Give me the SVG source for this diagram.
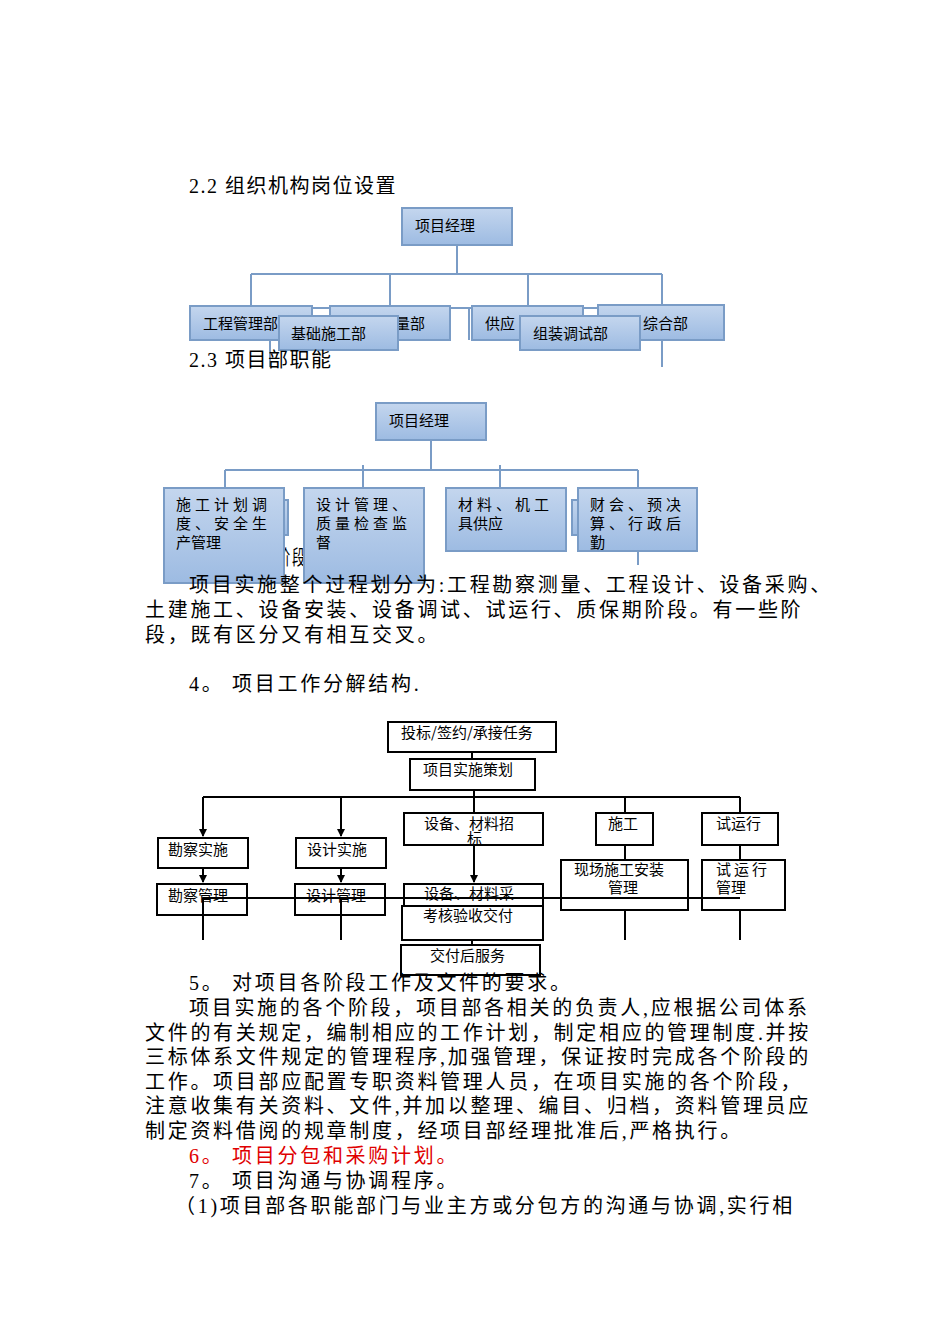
<svg xmlns="http://www.w3.org/2000/svg" width="950" height="1344" viewBox="0 0 950 1344">
<style>
text{font-family:"Liberation Serif","Noto Sans CJK SC",serif;font-size:20px;fill:#000;letter-spacing:2.7px}
.h{letter-spacing:1.5px}
.bl{fill:none;stroke:#7a9cc6;stroke-width:2}
.bx{fill:url(#g);stroke:#7a9cc6;stroke-width:2}
.s{font-size:15px;font-family:"Noto Sans CJK SC",sans-serif;letter-spacing:0}
.sp{letter-spacing:4px}
.k{fill:#fff;stroke:#000;stroke-width:2}
.kl{stroke:#000;stroke-width:2;fill:none}
.t{font-size:15px;font-family:"Noto Sans CJK SC",sans-serif;letter-spacing:0}
.r{fill:#e00000}
</style>
<defs>
<linearGradient id="g" x1="0" y1="0" x2="0" y2="1"><stop offset="0" stop-color="#c4d6ee"/><stop offset="1" stop-color="#9dbbe2"/></linearGradient>
<marker id="a" markerWidth="8" markerHeight="8" refX="7" refY="4" orient="auto" markerUnits="userSpaceOnUse"><path d="M0,0L8,4L0,8z" fill="#000"/></marker>
</defs>
<rect width="950" height="1344" fill="#fff"/>
<text x="189" y="193" class="h">2.2 组织机构岗位设置</text>
<g id="conn1" class="bl">
<path d="M457,245V274M251,274H662M251,274V306M390,274V306M528,274V306M662,274V306M253,308H669"/>
</g>
<g id="n1"><rect x="402" y="208" width="110" height="37" class="bx"/><text class="s" x="415" y="231">项目经理</text></g>
<g id="n2"><rect x="190" y="306" width="122" height="34" class="bx"/><text class="s" x="203" y="329">工程管理部</text></g>
<g id="n3"><rect x="330" y="306" width="120" height="34" class="bx"/><text class="s" x="395" y="329">量部</text></g>
<g id="n4"><rect x="472" y="306" width="111" height="34" class="bx"/><text class="s" x="485" y="329">供应</text></g>
<g id="n5"><rect x="598" y="305" width="126" height="35" class="bx"/><text class="s" x="643" y="329">综合部</text></g>
<g id="n6"><rect x="279" y="316" width="119" height="34" class="bx"/><text class="s" x="291" y="339">基础施工部</text></g>
<g id="n7"><rect x="520" y="316" width="120" height="34" class="bx"/><text class="s" x="533" y="339">组装调试部</text></g>
<path d="M270,340V367M662,340V367M469,308V340" class="bl"/>
<text x="189" y="367" class="h">2.3 项目部职能</text>
<text x="189" y="565" textLength="118" lengthAdjust="spacingAndGlyphs">3。 项目实施阶段</text>
<g id="conn2" class="bl">
<path d="M431,440V470M225,470H638M225,470V488M363,465V488M500,465V488M638,470V488M638,551V565"/>
</g>
<g id="m1"><rect x="376" y="403" width="110" height="37" class="bx"/><text class="s" x="389" y="426">项目经理</text></g>
<g id="m2"><rect x="280" y="500" width="8" height="35" class="bx"/><rect x="164" y="488" width="120" height="95" class="bx"/><text class="s sp" x="176" y="510">施工计划调</text><text class="s sp" x="176" y="529">度、安全生</text><text class="s" x="176" y="548">产管理</text></g>
<g id="m3"><rect x="304" y="488" width="120" height="95" class="bx"/><text class="s sp" x="316" y="510">设计管理、</text><text class="s sp" x="316" y="529">质量检查监</text><text class="s" x="316" y="548">督</text></g>
<g id="m4"><rect x="446" y="488" width="120" height="63" class="bx"/><text class="s sp" x="458" y="510">材料、机工</text><text class="s" x="458" y="529">具供应</text></g>
<g id="m5"><rect x="572" y="500" width="8" height="35" class="bx"/><rect x="578" y="488" width="119" height="63" class="bx"/><text class="s sp" x="590" y="510">财会、预决</text><text class="s sp" x="590" y="529">算、行政后</text><text class="s" x="590" y="548">勤</text></g>
<text x="189" y="592">项目实施整个过程划分为:工程勘察测量、工程设计、设备采购、</text>
<text x="145" y="617">土建施工、设备安装、设备调试、试运行、质保期阶段。有一些阶</text>
<text x="145" y="642">段，既有区分又有相互交叉。</text>
<text x="189" y="691">4。 项目工作分解结构.</text>
<g id="conn3" class="kl">
<path d="M472,752V759M474,790V813M203,797H740M625,797V813M740,797V813"/>
<path d="M203,797V836" marker-end="url(#a)"/><path d="M341,797V836" marker-end="url(#a)"/>
<path d="M203,845V882" marker-end="url(#a)"/><path d="M341,845V882" marker-end="url(#a)"/>
<path d="M474,845V882" marker-end="url(#a)"/>
<path d="M203,915V940M341,915V940M625,845V940M740,845V940M472,940V945"/>
</g>
<g id="w1"><rect x="388" y="722" width="168" height="30" class="k"/><text class="t" x="401" y="738">投标/签约/承接任务</text></g>
<g id="w2"><rect x="410" y="759" width="125" height="31" class="k"/><text class="t" x="423" y="775">项目实施策划</text></g>
<g id="w3"><rect x="404" y="813" width="139" height="32" class="k"/><text class="t" x="424" y="829">设备、材料招</text><text class="t" x="467" y="844" font-size="12">标</text></g>
<g id="w4"><rect x="596" y="813" width="57" height="32" class="k"/><text class="t" x="608" y="829">施工</text></g>
<g id="w5"><rect x="702" y="813" width="76" height="32" class="k"/><text class="t" x="716" y="829">试运行</text></g>
<g id="w6"><rect x="158" y="838" width="90" height="30" class="k"/><text class="t" x="168" y="855">勘察实施</text></g>
<g id="w7"><rect x="296" y="838" width="90" height="30" class="k"/><text class="t" x="307" y="855">设计实施</text></g>
<g id="w8"><rect x="561" y="860" width="127" height="50" class="k"/><text class="t" x="574" y="875">现场施工安装</text><text class="t" x="608" y="893">管理</text></g>
<g id="w9"><rect x="702" y="860" width="83" height="50" class="k"/><text class="t" x="716" y="875" style="letter-spacing:3px">试运行</text><text class="t" x="716" y="893">管理</text></g>
<g id="w10"><rect x="157" y="884" width="90" height="31" class="k"/><text class="t" x="168" y="901">勘察管理</text></g>
<g id="w11"><rect x="295" y="884" width="90" height="31" class="k"/><text class="t" x="306" y="901">设计管理</text></g>
<g id="w12"><rect x="404" y="884" width="139" height="26" class="k"/><text class="t" x="424" y="899">设备、材料采</text></g>
<path d="M203,898H740M203,898V940M341,898V940" class="kl"/>
<g id="w13"><rect x="402" y="906" width="141" height="34" class="k"/><text class="t" x="423" y="921">考核验收交付</text></g>
<g id="w14"><rect x="401" y="945" width="139" height="30" class="k"/><text class="t" x="430" y="961">交付后服务</text></g>
<text x="189" y="990">5。 对项目各阶段工作及文件的要求。</text>
<text x="189" y="1015">项目实施的各个阶段，项目部各相关的负责人,应根据公司体系</text>
<text x="145" y="1040">文件的有关规定，编制相应的工作计划，制定相应的管理制度.并按</text>
<text x="145" y="1064">三标体系文件规定的管理程序,加强管理，保证按时完成各个阶段的</text>
<text x="145" y="1089">工作。项目部应配置专职资料管理人员，在项目实施的各个阶段，</text>
<text x="145" y="1113">注意收集有关资料、文件,并加以整理、编目、归档，资料管理员应</text>
<text x="145" y="1138">制定资料借阅的规章制度，经项目部经理批准后,严格执行。</text>
<text x="189" y="1163" class="r">6。 项目分包和采购计划。</text>
<text x="189" y="1188">7。 项目沟通与协调程序。</text>
<text x="175" y="1213">（1)项目部各职能部门与业主方或分包方的沟通与协调,实行相</text>
</svg>
